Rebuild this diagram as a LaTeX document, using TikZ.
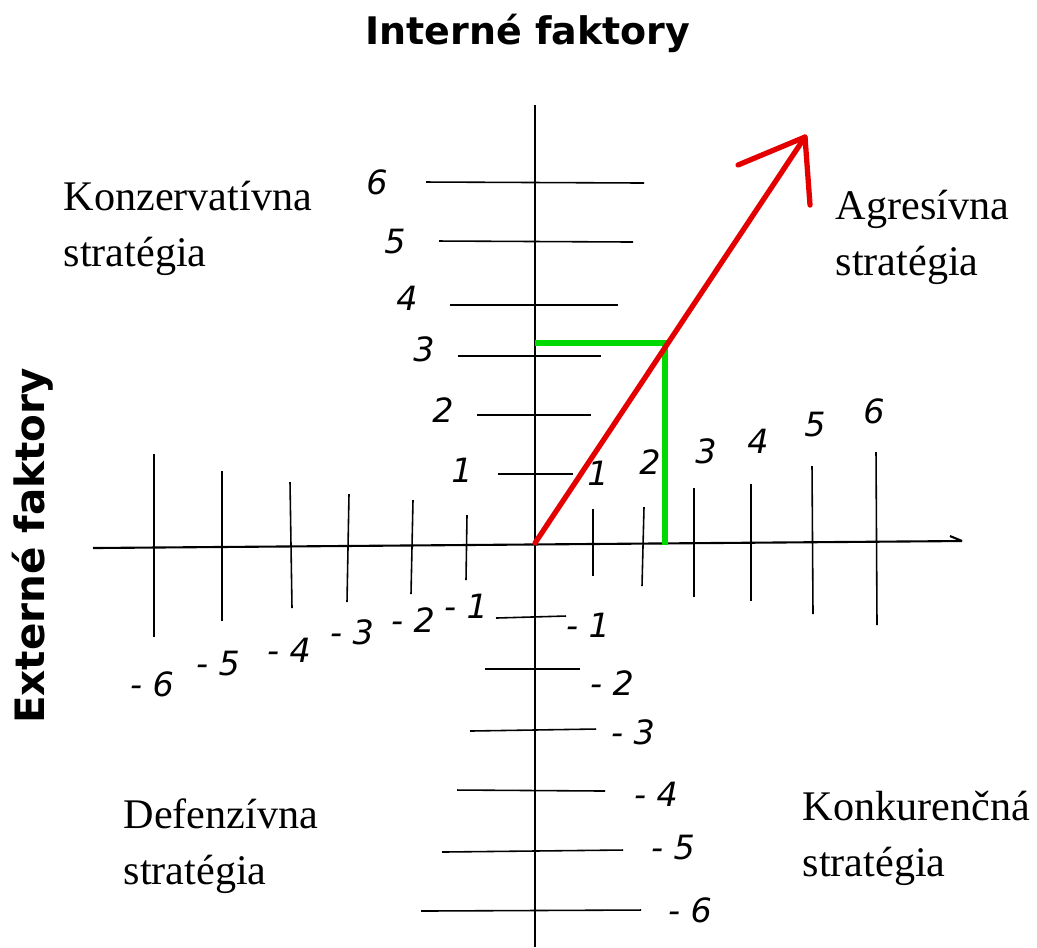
\documentclass[tikz,border=0pt]{standalone}
\usepackage{fontspec}
\setmainfont{Liberation Serif}
\newfontfamily\headfont{DejaVu Sans}
\newfontfamily\handfont{DejaVu Sans}
\begin{document}
\begin{tikzpicture}[x=0.01cm,y=-0.01cm]
\useasboundingbox (0,0) rectangle (1037,947);
\tikzset{axis/.style={line width=0.6pt},
  tick/.style={line width=0.45pt},
  num/.style={font=\handfont\itshape\fontsize{9.5}{9.5}\selectfont, inner sep=0pt},
  quad/.style={font=\fontsize{12}{16}\selectfont, align=left, anchor=north west, inner sep=0pt},
  head/.style={font=\headfont\bfseries\fontsize{10.8}{10.8}\selectfont}}

\node[head] (intern) at (528,33) {Interné faktory};
\node[head, rotate=90, font=\headfont\bfseries\fontsize{11.5}{11.5}\selectfont] (extern) at (33,546) {Externé faktory};

\node[quad] (konz) at (63,180) {Konzervatívna\\stratégia};
\node[quad] (agr) at (835,189) {Agresívna\\stratégia};
\node[quad] (def) at (123,798) {Defenzívna\\stratégia};
\node[quad] (konk) at (802,790) {Konkurenčná\\stratégia};

% axes
\draw[axis] (535,105) -- (535,947);
\draw[axis] (93,548) -- (962,541);
\draw[axis] (950,536) -- (962,541);

% ticks on the vertical axis
\draw[tick] (426,182) -- (644,183);
\draw[tick] (439,241) -- (633,242);
\draw[tick] (450,305) -- (618,305);
\draw[tick] (458,356) -- (601,356);
\draw[tick] (477,415) -- (591,415);
\draw[tick] (498,474) -- (573,474);
\draw[tick] (496,618) -- (566,616);
\draw[tick] (485,669) -- (580,669);
\draw[tick] (470,731) -- (596,729);
\draw[tick] (457,790) -- (605,791);
\draw[tick] (442,852) -- (623,850);
\draw[tick] (421,911) -- (641,910);

% ticks on the horizontal axis
\draw[tick] (154,454) -- (154,637);
\draw[tick] (222,471) -- (222,621);
\draw[tick] (290,482) -- (292,608);
\draw[tick] (349,494) -- (347,602);
\draw[tick] (413,500) -- (411,594);
\draw[tick] (467,515) -- (466,580);
\draw[tick] (593,509) -- (593,576);
\draw[tick] (644,507) -- (642,586);
\draw[tick] (694,488) -- (694,597);
\draw[tick] (751,484) -- (751,601);
\draw[tick] (812,466) -- (813,614);
\draw[tick] (876,452) -- (877,625);

% numbers
\node[num] (y6) at (377,182) {6};
\node[num] (y5) at (395,242) {5};
\node[num] (y4) at (407,298) {4};
\node[num] (y3) at (424,349) {3};
\node[num] (y2) at (443,410) {2};
\node[num] (y1) at (462,470) {1};
\node[num] (ym1) at (588,625) {- 1};
\node[num] (ym2) at (612,683) {- 2};
\node[num] (ym3) at (633,732) {- 3};
\node[num] (ym4) at (656,794) {- 4};
\node[num] (ym5) at (673,848) {- 5};
\node[num] (ym6) at (690,910) {- 6};
\node[num] (xm6) at (152,684) {- 6};
\node[num] (xm5) at (218,664) {- 5};
\node[num] (xm4) at (289,650) {- 4};
\node[num] (xm3) at (352,632) {- 3};
\node[num] (xm2) at (413,620) {- 2};
\node[num] (xm1) at (466,606) {- 1};
\node[num] (x1) at (598,473) {1};
\node[num] (x2) at (650,462) {2};
\node[num] (x3) at (706,451) {3};
\node[num] (x4) at (758,441) {4};
\node[num] (x5) at (815,425) {5};
\node[num] (x6) at (874,411) {6};

% green helper lines and red vector
\draw[line width=1.5pt, green!85!black, line cap=butt] (535,343) -- (665,343) -- (665,545);
\draw[line width=1.5pt, red!90!black, line cap=round, line join=round] (535,543) -- (805,137);
\draw[line width=1.5pt, red!90!black, line cap=round, line join=round] (738,165) -- (805,137) -- (810,205);
\end{tikzpicture}
\end{document}
